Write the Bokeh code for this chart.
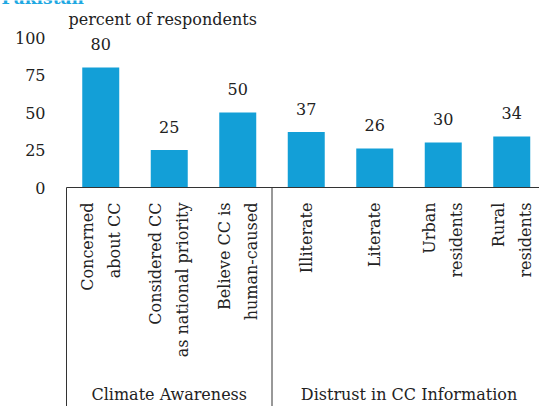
import math

from bokeh.core.properties import value
from bokeh.embed import file_html
from bokeh.models import ColumnDataSource, Range1d
from bokeh.plotting import figure
from bokeh.resources import INLINE

# --- data -------------------------------------------------------------
categories = [
    "Concerned\nabout CC",
    "Considered CC\nas national priority",
    "Believe CC is\nhuman-caused",
    "Illiterate",
    "Literate",
    "Urban\nresidents",
    "Rural\nresidents",
]
values = [80, 25, 50, 37, 26, 30, 34]
groups = ["Climate Awareness", "Distrust in CC Information"]
group_sizes = [3, 4]
y_ticks = [0, 25, 50, 75, 100]

# --- styling ----------------------------------------------------------
FONT = "DejaVu Serif"
FS = "16px"
BAR = "#139fd7"
INK = "#222222"
LINE = "#333333"

W, H = 539, 406
AXIS_LEFT_PX = 66    # canvas px of the first category boundary
ZERO_PX = 187        # canvas px (from top) of the value axis zero
PX_PER_CAT = 68.5    # px per category slot
PX_PER_UNIT = 1.5    # px per percentage point


def dx(px):
    """canvas x pixel -> category coordinate"""
    return -0.5 + (px - AXIS_LEFT_PX) / PX_PER_CAT


def dy(px):
    """canvas y pixel (from top) -> value coordinate"""
    return (ZERO_PX - px) / PX_PER_UNIT


p = figure(
    width=W, height=H,
    x_range=Range1d(dx(0), dx(W)), y_range=Range1d(dy(H), dy(0)),
    output_backend="svg", toolbar_location=None,
    min_border_left=0, min_border_right=0, min_border_top=0, min_border_bottom=0,
)
p.axis.visible = False
p.grid.visible = False
p.outline_line_color = None
p.background_fill_color = "white"
p.border_fill_color = "white"

xs = list(range(len(categories)))
src = ColumnDataSource(dict(x=xs, v=values, lab=[str(v) for v in values], cat=categories))

text_style = dict(text_font=value(FONT), text_font_size=FS, text_color=INK)

# value axis tick labels
p.text(x=[dx(45)] * len(y_ticks), y=y_ticks, text=[str(t) for t in y_ticks],
       text_align="right", text_baseline="middle", **text_style)

# bars
p.vbar(x="x", top="v", width=0.54, source=src, fill_color=BAR, line_color=None)

# value labels above bars
p.text(x="x", y="v", text="lab", source=src, text_align="center",
       text_baseline="middle", y_offset=-23.5, **text_style)

# rotated category labels under the axis
p.text(x="x", y=dy(202), text="cat", source=src, angle=math.pi / 2,
       text_align="right", text_baseline="middle", text_line_height=1.4,
       **text_style)

# axis baseline and group dividers
p.segment(x0=[dx(AXIS_LEFT_PX)], y0=[0], x1=[dx(W)], y1=[0], line_color=LINE, line_width=1)
bounds = [-0.5]
for n in group_sizes:
    bounds.append(bounds[-1] + n)
p.segment(x0=bounds, y0=[0] * len(bounds), x1=bounds, y1=[dy(H)] * len(bounds),
          line_color=LINE, line_width=1)

# group names
centers = [(bounds[i] + bounds[i + 1]) / 2 for i in range(len(groups))]
p.text(x=centers, y=[dy(394)] * len(groups), text=groups,
       text_align="center", text_baseline="middle", **text_style)

# unit caption
p.text(x=[dx(68)], y=[dy(19)], text=["percent of respondents"],
       text_align="left", text_baseline="middle", **text_style)

# country heading, running off the top edge
p.text(x=[dx(1)], y=[dy(-3)], text=["Pakistan"], text_align="left",
       text_baseline="middle", text_font=value(FONT), text_font_size="17px",
       text_font_style="bold", text_color="#1fa8e2")

open("out.html", "w").write(file_html(p, INLINE))
